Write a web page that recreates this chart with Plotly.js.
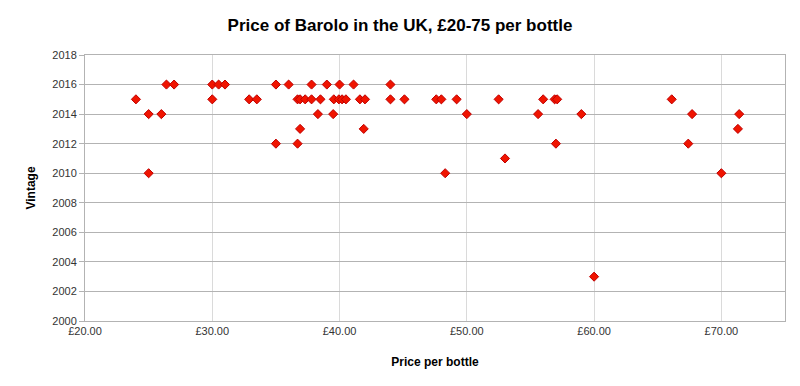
<!DOCTYPE html>
<html>
<head>
<meta charset="utf-8">
<script src="https://cdn.plot.ly/plotly-3.0.1.min.js"></script>
<style>html,body{margin:0;padding:0;background:#fff;}#chart{width:800px;height:386px;}</style>
</head>
<body>
<div id="chart"></div>
<script>
// Price per bottle (GBP) and vintage year
const prices = [
  26.4, 27.0, 30.0, 30.5, 31.0, 35.0, 36.0, 37.8, 39.0, 40.0, 41.1, 44.0,
  24.0, 30.0, 32.9, 33.5, 36.7, 36.9, 37.3, 37.8, 38.5, 39.55, 39.95, 40.2, 40.5, 41.6, 42.0, 44.0, 45.1, 47.6, 48.0, 49.2, 52.5, 56.0, 56.9, 57.1, 66.1,
  25.0, 26.0, 38.3, 39.5, 50.0, 55.6, 59.0, 67.7, 71.4,
  36.9, 41.9, 71.3,
  35.0, 36.7, 57.0, 67.4,
  53.0,
  25.0, 48.3, 70.0,
  60.0
];
const vintages = [
  2016, 2016, 2016, 2016, 2016, 2016, 2016, 2016, 2016, 2016, 2016, 2016,
  2015, 2015, 2015, 2015, 2015, 2015, 2015, 2015, 2015, 2015, 2015, 2015, 2015, 2015, 2015, 2015, 2015, 2015, 2015, 2015, 2015, 2015, 2015, 2015, 2015,
  2014, 2014, 2014, 2014, 2014, 2014, 2014, 2014, 2014,
  2013, 2013, 2013,
  2012, 2012, 2012, 2012,
  2011,
  2010, 2010, 2010,
  2003
];
const chartTitle = "Price of Barolo in the UK, £20-75 per bottle";
const xTitle = "Price per bottle";
const yTitle = "Vintage";

const font = "Liberation Sans, Arial, sans-serif";
const trace = {
  type: "scatter", mode: "markers", x: prices, y: vintages,
  marker: {symbol: "diamond", size: 7, color: "#f01400", line: {color: "#c00000", width: 1}},
  hoverinfo: "x+y"
};
const layout = {
  width: 800, height: 386,
  margin: {l: 85, r: 15, t: 55, b: 65},
  paper_bgcolor: "#fff", plot_bgcolor: "#fff",
  font: {family: font, size: 11, color: "#333"},
  showlegend: false,
  title: {text: "<b>" + chartTitle + "</b>", font: {family: font, size: 17, color: "#000"}, x: 0.5, xanchor: "center", y: 0.935, yanchor: "middle"},
  xaxis: {
    range: [20, 75], dtick: 10, tick0: 20, tickprefix: "£", tickformat: ".2f",
    showgrid: true, gridcolor: "#dadada", gridwidth: 1,
    showline: true, linecolor: "#b3b3b3", mirror: true, zeroline: false,
    ticks: "", tickfont: {family: font, size: 11, color: "#333"},
    title: {text: "<b>" + xTitle + "</b>", font: {family: font, size: 12, color: "#000"}, standoff: 21}
  },
  yaxis: {
    range: [2000, 2018], dtick: 2, tick0: 2000, tickformat: "d",
    showgrid: true, gridcolor: "#b3b3b3", gridwidth: 1,
    showline: true, linecolor: "#b3b3b3", mirror: true, zeroline: false,
    ticks: "outside", ticklen: 5, tickcolor: "#b3b3b3",
    tickfont: {family: font, size: 11, color: "#333"},
    title: {text: "<b>" + yTitle + "</b>", font: {family: font, size: 12, color: "#000"}, standoff: 14}
  }
};
Plotly.newPlot("chart", [trace], layout, {displayModeBar: false, staticPlot: true});
</script>
</body>
</html>
